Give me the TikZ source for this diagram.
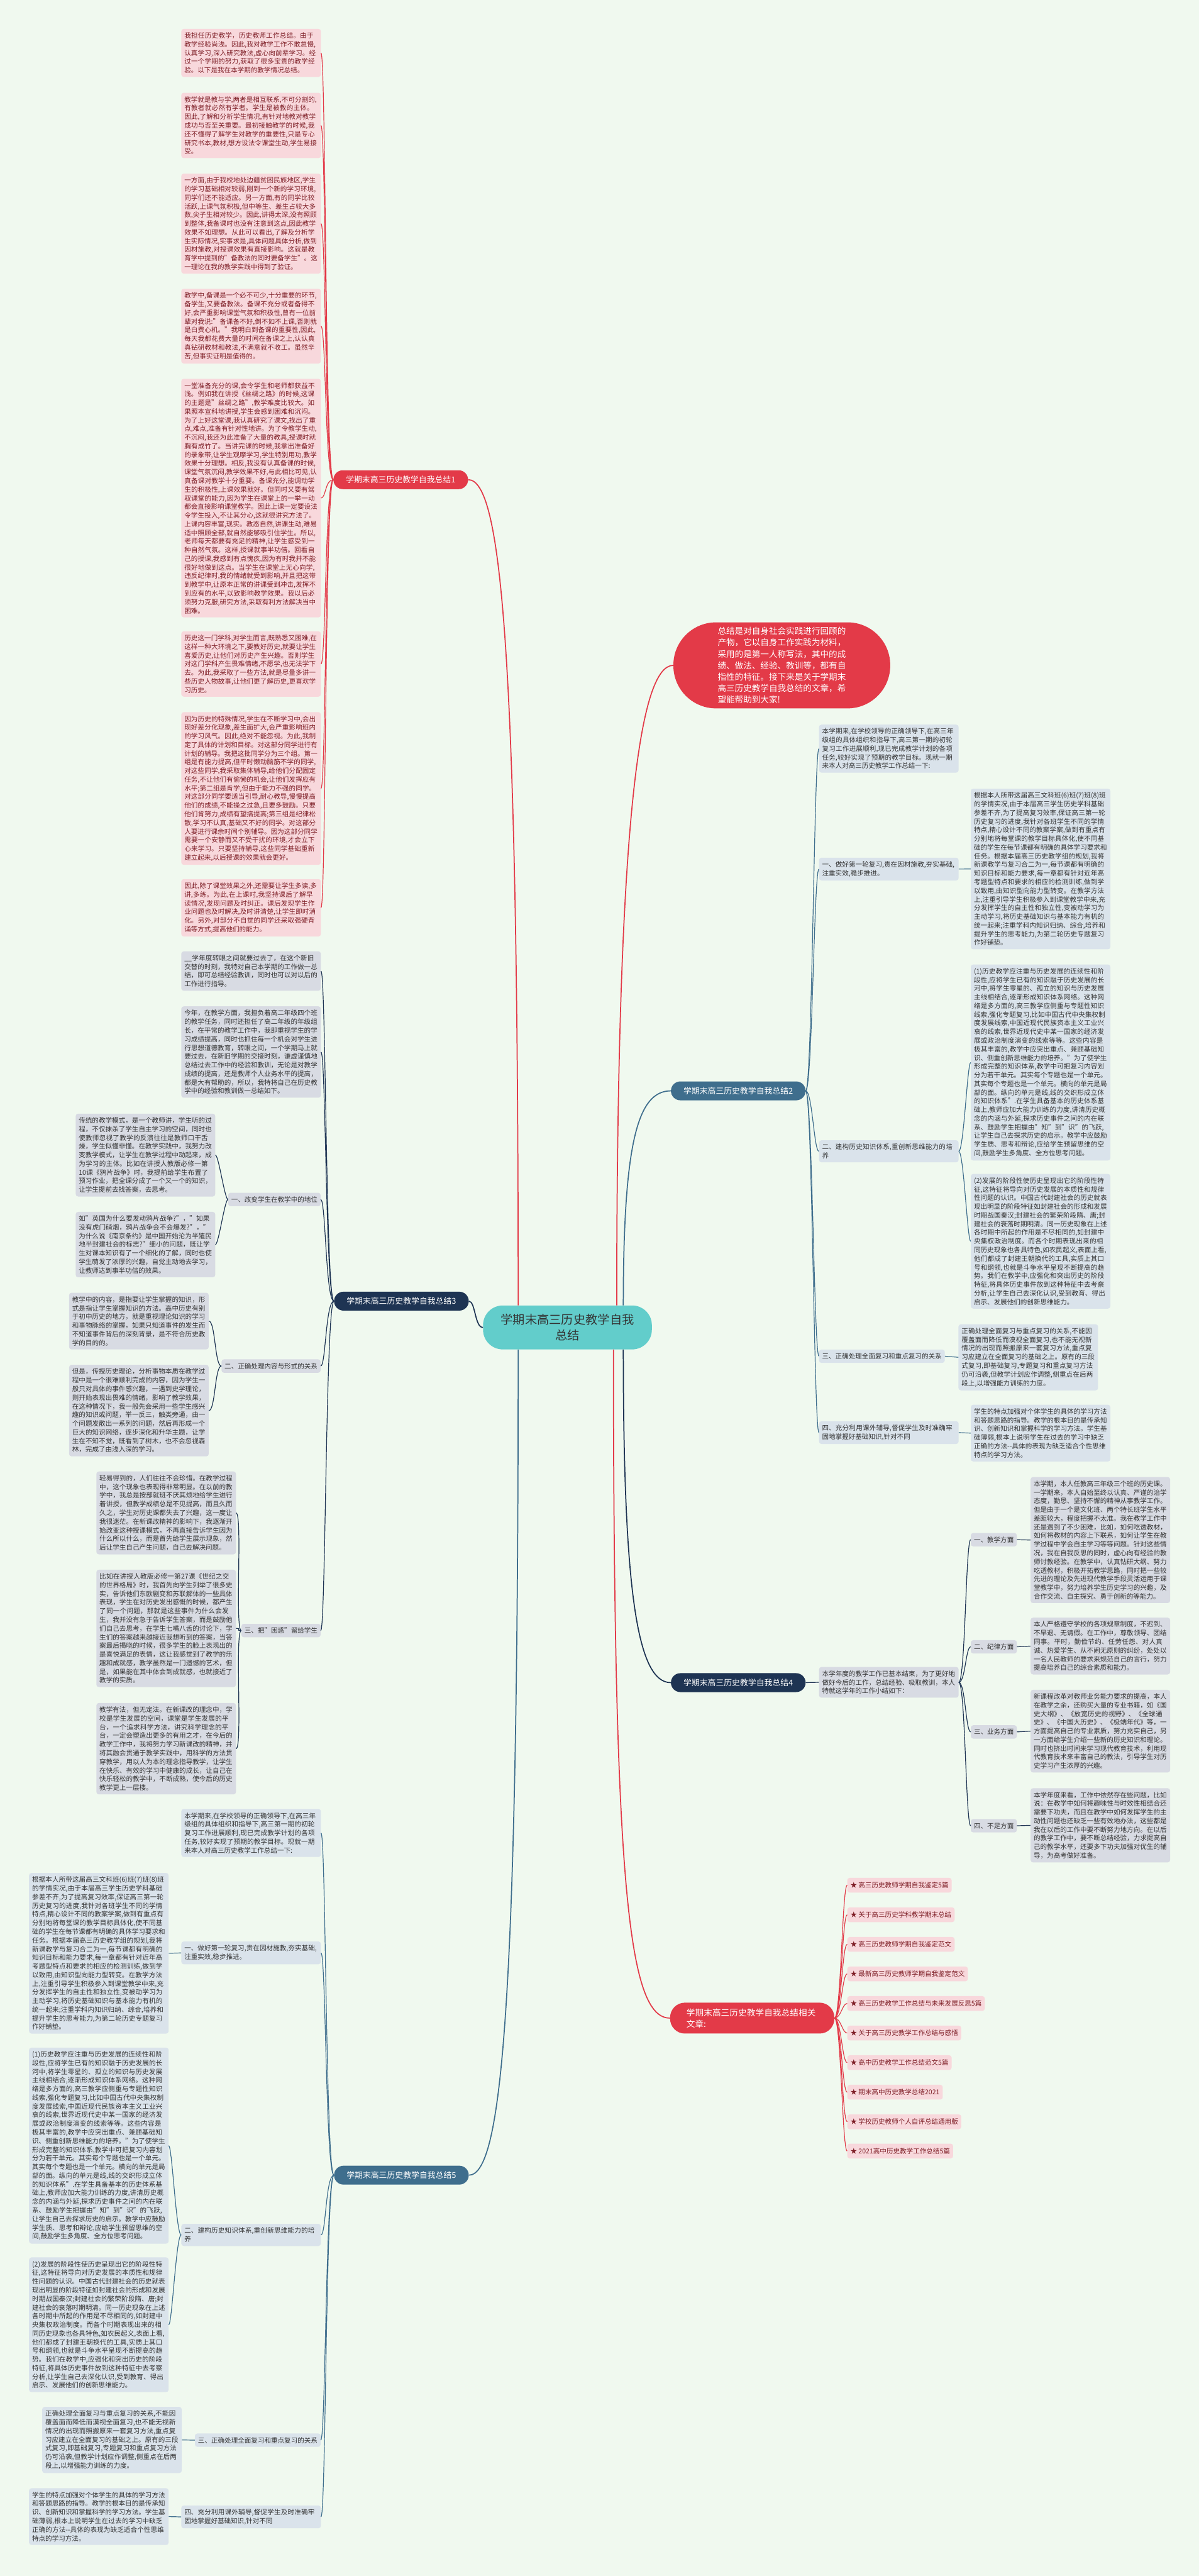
\documentclass[tikz,border=0pt]{standalone}
\usepackage{fontspec}
\setmainfont{Noto Sans CJK SC}
\XeTeXlinebreaklocale "zh"
\XeTeXlinebreakskip=0pt plus 1pt
\usepackage{tikz}

\definecolor{bgmint}{HTML}{F0F9EF}
\definecolor{mmred}{HTML}{E33A48}
\definecolor{pinkfill}{HTML}{F8D8DC}
\definecolor{pinktext}{HTML}{7E1E26}
\definecolor{steel}{HTML}{3F6E8D}
\definecolor{steelfill}{HTML}{DAE3EB}
\definecolor{navy}{HTML}{1E3453}
\definecolor{navyfill}{HTML}{D8DBE3}
\definecolor{greytext}{HTML}{333333}
\definecolor{tealroot}{HTML}{62CDCB}

\newcommand{\mmtext}{\fontsize{11.5}{15}\selectfont}
\newcommand{\mmbranch}{\fontsize{14}{18}\selectfont}
\newcommand{\mmbig}{\fontsize{14.8}{19.7}\selectfont}
\newcommand{\mmroot}{\fontsize{21}{27}\selectfont}

\tikzset{
  pinkbox/.style={fill=pinkfill, text=pinktext, rounded corners=1.5mm, inner xsep=1.9mm, inner ysep=2.2mm, text width=81.2mm, align=left, anchor=north west, font=\mmtext},
  steelbox/.style={pinkbox, fill=steelfill, text=greytext},
  navybox/.style={pinkbox, fill=navyfill, text=greytext},
  steeltag/.style={fill=steelfill, text=greytext, rounded corners=1.5mm, inner xsep=1.9mm, inner ysep=2.2mm, font=\mmtext},
  navytag/.style={steeltag, fill=navyfill},
  pinktag/.style={steeltag, fill=pinkfill, text=pinktext, minimum height=9mm, anchor=west},
  branchnode/.style={rounded corners=5.75mm, minimum width=82mm, minimum height=11.5mm, inner sep=0pt, text=white, font=\mmbranch},
  redline/.style={draw=mmred, line width=1.3pt},
  steelline/.style={draw=steel, line width=1.3pt},
  navyline/.style={draw=navy, line width=1.3pt},
  mainline/.style={line width=1.9pt}
}

\begin{document}
\begin{tikzpicture}[x=1mm,y=-1mm]
\fill[bgmint] (0,0) rectangle (730,1568);
\useasboundingbox (0,0) rectangle (730,1568);

\node[fill=tealroot, rounded corners=12mm, text=greytext, font=\mmroot, align=center, inner xsep=10.8mm, inner ysep=5.2mm] (root) at (345.5,808) {学期末高三历史教学自我\\总结};

\node[fill=mmred, rounded corners=26mm, text=white, font=\mmbig, align=left, inner xsep=27mm, inner ysep=3mm] (intro) at (476,405) {总结是对自身社会实践进行回顾的\\产物，它以自身工作实践为材料，\\采用的是第一人称写法，其中的成\\绩、做法、经验、教训等，都有自\\指性的特征。接下来是关于学期末\\高三历史教学自我总结的文章，希\\望能帮助到大家!};

\node[branchnode, fill=mmred] (b1) at (244,292) {学期末高三历史教学自我总结1};
\node[branchnode, fill=steel] (b2) at (449.5,664) {学期末高三历史教学自我总结2};
\node[branchnode, fill=navy] (b3) at (244.4,792) {学期末高三历史教学自我总结3};
\node[branchnode, fill=navy] (b4) at (449.5,1024.2) {学期末高三历史教学自我总结4};
\node[branchnode, fill=steel] (b5) at (244.4,1324) {学期末高三历史教学自我总结5};
\node[branchnode, fill=mmred, font=\mmbig, align=left, text width=80mm, minimum width=100mm, minimum height=18.8mm, rounded corners=9mm] (b6) at (458,1228.4) {学期末高三历史教学自我总结相关文章:};

\draw[redline, mainline] ([xshift=30mm]root.north) .. controls +(0,-300) and +(-20,0) .. (intro.west);
\draw[steelline, mainline] ([xshift=34mm]root.north) .. controls +(0,-100) and +(-20,0) .. (b2.west);
\draw[navyline, mainline] ([xshift=34mm]root.south) .. controls +(0,150) and +(-20,0) .. (b4.west);
\draw[redline, mainline] ([xshift=28mm]root.south) .. controls +(0,330) and +(-25,0) .. (b6.west);
\draw[redline, mainline] ([xshift=-30mm]root.north) .. controls +(0,-400) and +(20,0) .. (b1.east);
\draw[navyline, mainline] (root.west) .. controls +(-5,0) and +(4,0) .. (b3.east);
\draw[steelline, mainline] ([xshift=-30mm]root.south) .. controls +(0,400) and +(20,0) .. (b5.east);

\node[pinkbox] (b1a) at (110.3,17.5) {我担任历史教学，历史教师工作总结。由于教学经验尚浅。因此,我对教学工作不敢怠慢,认真学习,深入研究教法,虚心向前辈学习。经过一个学期的努力,获取了很多宝贵的教学经验。以下是我在本学期的教学情况总结。};
\node[pinkbox] (b1b) at (110.3,56.4) {教学就是教与学,两者是相互联系,不可分割的,有教者就必然有学者。学生是被教的主体。因此,了解和分析学生情况,有针对地教对教学成功与否至关重要。最初接触教学的时候,我还不懂得了解学生对教学的重要性,只是专心研究书本,教材,想方设法令课堂生动,学生易接受。};
\node[pinkbox] (b1c) at (110.3,105.6) {一方面,由于我校地处边疆贫困民族地区,学生的学习基础相对较弱,刚到一个新的学习环境,同学们还不能适应。另一方面,有的同学比较活跃,上课气氛积极,但中等生、差生占较大多数,尖子生相对较少。因此,讲得太深,没有照顾到整体,我备课时也没有注意到这点,因此教学效果不如理想。从此可以看出,了解及分析学生实际情况,实事求是,具体问题具体分析,做到因材施教,对授课效果有直接影响。这就是教育学中提到的"备教法的同时要备学生"。这一理论在我的教学实践中得到了验证。};
\node[pinkbox] (b1d) at (110.3,175.7) {教学中,备课是一个必不可少,十分重要的环节,备学生,又要备教法。备课不充分或者备得不好,会严重影响课堂气氛和积极性,曾有一位前辈对我说:"备课备不好,倒不如不上课,否则就是白费心机。"我明白到备课的重要性,因此,每天我都花费大量的时间在备课之上,认认真真钻研教材和教法,不满意就不收工。虽然辛苦,但事实证明是值得的。};
\node[pinkbox] (b1e) at (110.3,230.5) {一堂准备充分的课,会令学生和老师都获益不浅。例如我在讲授《丝绸之路》的时候,这课的主题是"丝绸之路",教学难度比较大。如果照本宣科地讲授,学生会感到困难和沉闷。为了上好这堂课,我认真研究了课文,找出了重点,难点,准备有针对性地讲。为了令教学生动,不沉闷,我还为此准备了大量的教具,授课时就胸有成竹了。当讲完课的时候,我拿出准备好的录象带,让学生观摩学习,学生特别用功,教学效果十分理想。相反,我没有认真备课的时候,课堂气氛沉闷,教学效果不好,与此相比可见,认真备课对教学十分重要。备课充分,能调动学生的积极性,上课效果就好。但同时又要有驾驭课堂的能力,因为学生在课堂上的一举一动都会直接影响课堂教学。因此上课一定要设法令学生投入,不让其分心,这就很讲究方法了。上课内容丰富,现实。教态自然,讲课生动,难易适中照顾全部,就自然能够吸引住学生。所以,老师每天都要有充足的精神,让学生感受到一种自然气氛。这样,授课就事半功倍。回看自己的授课,我感到有点愧疚,因为有时我并不能很好地做到这点。当学生在课堂上无心向学,违反纪律时,我的情绪就受到影响,并且把这带到教学中,让原本正常的讲课受到冲击,发挥不到应有的水平,以致影响教学效果。我以后必须努力克服,研究方法,采取有利方法解决当中困难。};
\node[pinkbox] (b1f) at (110.3,384.2) {历史这一门学科,对学生而言,既熟悉又困难,在这样一种大环境之下,要教好历史,就要让学生喜爱历史,让他们对历史产生兴趣。否则学生对这门学科产生畏难情绪,不愿学,也无法学下去。为此,我采取了一些方法,就是尽量多讲一些历史人物故事,让他们更了解历史,更喜欢学习历史。};
\node[pinkbox] (b1g) at (110.3,433.4) {因为历史的特殊情况,学生在不断学习中,会出现好差分化现象,差生面扩大,会严重影响班内的学习风气。因此,绝对不能忽视。为此,我制定了具体的计划和目标。对这部分同学进行有计划的辅导。我把这批同学分为三个组。第一组是有能力提高,但平时懒动脑筋不学的同学,对这些同学,我采取集体辅导,给他们分配固定任务,不让他们有偷懒的机会,让他们发挥应有水平;第二组是肯学,但由于能力不强的同学。对这部分同学要适当引导,耐心教导,慢慢提高他们的成绩,不能操之过急,且要多鼓励。只要他们肯努力,成绩有望搞提高;第三组是纪律松散,学习不认真,基础又不好的同学。对这部分人要进行课余时间个别辅导。因为这部分同学需要一个安静而又不受干扰的环境,才会立下心来学习。只要坚持辅导,这些同学基础重新建立起来,以后授课的效果就会更好。};
\node[pinkbox] (b1h) at (110.3,535) {因此,除了课堂效果之外,还需要让学生多读,多讲,多练。为此,在上课时,我坚持课后了解早读情况,发现问题及时纠正。课后发现学生作业问题也及时解决,及时讲清楚,让学生即时消化。另外,对部分不自觉的同学还采取强硬背诵等方式,提高他们的能力。};

\draw[redline] (b1.west) .. controls +(-5,0) and +(3,0) .. (b1a.east);
\draw[redline] (b1.west) .. controls +(-5,0) and +(3,0) .. (b1b.east);
\draw[redline] (b1.west) .. controls +(-5,0) and +(3,0) .. (b1c.east);
\draw[redline] (b1.west) .. controls +(-5,0) and +(3,0) .. (b1d.east);
\draw[redline] (b1.west) .. controls +(-5,0) and +(3,0) .. (b1e.east);
\draw[redline] (b1.west) .. controls +(-5,0) and +(3,0) .. (b1f.east);
\draw[redline] (b1.west) .. controls +(-5,0) and +(3,0) .. (b1g.east);
\draw[redline] (b1.west) .. controls +(-5,0) and +(3,0) .. (b1h.east);

\node[steelbox] (c2a) at (498.6,441) {本学期来,在学校领导的正确领导下,在高三年级组的具体组织和指导下,高三第一期的初轮复习工作进展顺利,现已完成教学计划的各项任务,较好实现了预期的教学目标。现就一期来本人对高三历史教学工作总结一下:};
\node[steelbox] (c2b) at (498.6,522) {一、做好第一轮复习,贵在因材施教,夯实基础,注重实效,稳步推进。};
\node[steelbox] (c2b1) at (591,480) {根据本人所带这届高三文科班(6)班(7)班(8)班的学情实况,由于本届高三学生历史学科基础参差不齐,为了提高复习效率,保证高三第一轮历史复习的进度,我针对各班学生不同的学情特点,精心设计不同的教案学案,做到有重点有分别地将每堂课的教学目标具体化,使不同基础的学生在每节课都有明确的具体学习要求和任务。根据本届高三历史教学组的规划,我将新课教学与复习合二为一,每节课都有明确的知识目标和能力要求,每一章都有针对近年高考题型特点和要求的相应的检测训练,做到学以致用,由知识型向能力型转变。在教学方法上,注重引导学生积极参入到课堂教学中来,充分发挥学生的自主性和独立性,变被动学习为主动学习,将历史基础知识与基本能力有机的统一起来;注重学科内知识归纳、综合,培养和提升学生的思考能力,为第二轮历史专题复习作好铺垫。};
\node[steelbox] (c2c) at (498.6,694) {二、建构历史知识体系,重创新思维能力的培养};
\node[steelbox] (c2c1) at (591,587) {(1)历史教学应注重与历史发展的连续性和阶段性,应将学生已有的知识融于历史发展的长河中,将学生零星的、孤立的知识与历史发展主线相结合,逐渐形成知识体系网络。这种网络是多方面的,高三教学应侧重与专题性知识线索,强化专题复习,比如中国古代中央集权制度发展线索,中国近现代民族资本主义工业兴衰的线索,世界近现代史中某一国家的经济发展或政治制度演变的线索等等。这些内容是极其丰富的,教学中应突出重点、兼顾基础知识、侧重创新思维能力的培养。"为了使学生形成完整的知识体系,教学中可把复习内容划分为若干单元。其实每个专题也是一个单元。其实每个专题也是一个单元。横向的单元是局部的面。纵向的单元是线,线的交织形成立体的知识体系".在学生具备基本的历史体系基础上,教师应加大能力训练的力度,讲清历史概念的内涵与外延,探求历史事件之间的内在联系、鼓励学生把握由"知"到"识"的飞跃,让学生自己去探求历史的启示。教学中应鼓励学生质、思考和辩论,应给学生预留思维的空间,鼓励学生多角度、全方位思考问题。};
\node[steelbox] (c2c2) at (591,714.5) {(2)发展的阶段性使历史呈现出它的阶段性特征,这特征将导向对历史发展的本质性和规律性问题的认识。中国古代封建社会的历史就表现出明显的阶段特征如封建社会的形成和发展时期战国秦汉;封建社会的繁荣阶段隋、唐;封建社会的衰落时期明清。同一历史现象在上述各时期中所起的作用是不尽相同的,如封建中央集权政治制度。而各个时期表现出来的相同历史现象也各具特色,如农民起义,表面上看,他们都成了封建王朝换代的工具,实质上其口号和纲领,也就是斗争水平呈现不断提高的趋势。我们在教学中,应强化和突出历史的阶段特征,将具体历史事件放到这种特征中去考察分析,让学生自己去深化认识,受到教育、得出启示、发展他们的创新思维能力。};
\node[steeltag, anchor=west] (c2d) at (498.6,825.5) {三、正确处理全面复习和重点复习的关系};
\node[steelbox] (c2d1) at (583.5,806) {正确处理全面复习与重点复习的关系,不能因覆盖面而降低而漠视全面复习,也不能无视新情况的出现而照搬原来一套复习方法,重点复习应建立在全面复习的基础之上。原有的三段式复习,即基础复习,专题复习和重点复习方法仍可沿袭,但教学计划应作调整,侧重点在后两段上,以增强能力训练的力度。};
\node[steelbox] (c2e) at (498.6,865) {四、充分利用课外辅导,督促学生及时准确牢固地掌握好基础知识,针对不同};
\node[steelbox] (c2e1) at (591,855) {学生的特点加强对个体学生的具体的学习方法和答题思路的指导。教学的根本目的是传承知识、创新知识和掌握科学的学习方法。学生基础薄弱,根本上说明学生在过去的学习中缺乏正确的方法-{}-具体的表现为缺乏适合个性思维特点的学习方法。};

\draw[steelline] (b2.east) .. controls +(4,0) and +(-3,0) .. (c2a.west);
\draw[steelline] (b2.east) .. controls +(4,0) and +(-3,0) .. (c2b.west);
\draw[steelline] (b2.east) .. controls +(4,0) and +(-3,0) .. (c2c.west);
\draw[steelline] (b2.east) .. controls +(4,0) and +(-3,0) .. (c2d.west);
\draw[steelline] (b2.east) .. controls +(4,0) and +(-3,0) .. (c2e.west);
\draw[steelline] (c2b.east) -- (c2b1.west);
\draw[steelline] (c2c.east) .. controls +(3,0) and +(-2,0) .. (c2c1.west);
\draw[steelline] (c2c.east) .. controls +(3,0) and +(-2,0) .. (c2c2.west);
\draw[steelline] (c2d.east) -- (c2d1.west);
\draw[steelline] (c2e.east) -- (c2e1.west);

\node[navybox] (c3a) at (110.3,579) {\_\_学年度转眼之间就要过去了，在这个新旧交替的时刻，我特对自己本学期的工作做一总结，即可总结经验教训，同时也可以对以后的工作进行指导。};
\node[navybox] (c3b) at (110.3,612.5) {今年，在教学方面，我担负着高二年级四个班的教学任务，同时还担任了高二年级的年级组长，在平常的教学工作中，我即重视学生的学习成绩提高，同时也抓住每一个机会对学生进行思想道德教育，转眼之间，一个学期马上就要过去，在新旧学期的交接时刻，谦虚谨慎地总结过去工作中的经验和教训，无论是对教学成绩的提高，还是教师个人业务水平的提高，都是大有帮助的，所以，我特将自己在历史教学中的经验和教训做一总结如下。};
\node[navytag, anchor=east] (c3c) at (195.3,730.1) {一、改变学生在教学中的地位};
\node[navybox] (c3c1) at (46,677.8) {传统的教学模式，是一个教师讲，学生听的过程，不仅抹杀了学生自主学习的空间，同时也使教师忽视了教学的反溃往往是教师口干舌燥，学生似懂非懂。在教学实践中，我努力改变教学模式，让学生在教学过程中动起来，成为学习的主体。比如在讲授人教版必修一第10课《鸦片战争》时，我提前给学生布置了预习作业，把全课分成了一个又一个的知识，让学生提前去找答案，去思考。};
\node[navybox] (c3c2) at (46,737.6) {如"英国为什么要发动鸦片战争?"，"如果没有虎门硝烟，鸦片战争会不会爆发?"，"为什么说《南京条约》是中国开始沦为半殖民地半封建社会的标志?"细小的问题，既让学生对课本知识有了一个细化的了解，同时也使学生萌发了浓厚的兴趣，自觉主动地去学习，让教师达到事半功倍的效果。};
\node[navytag, anchor=east] (c3d) at (195.3,831.5) {二、正确处理内容与形式的关系};
\node[navybox] (c3d1) at (42,786.8) {教学中的内容，是指要让学生掌握的知识，形式是指让学生掌握知识的方法。高中历史有别于初中历史的地方，就是重视理论知识的学习和事物脉络的掌握，如果只知道事件的发生而不知道事件背后的深刻背景，是不符合历史教学的目的的。};
\node[navybox] (c3d2) at (42,830.7) {但是，传授历史理论，分析事物本质在教学过程中是一个很难顺利完成的内容，因为学生一般只对具体的事件感兴趣，一遇到史学理论，则开始表现出畏难的情绪，影响了教学效果，在这种情况下，我一般先会采用一些学生感兴趣的知识或问题，举一反三，触类旁通，由一个问题发散出一系列的问题，然后再形成一个巨大的知识网络，逐步深化和升华主题，让学生在不知不觉，既看到了树木，也不会忽视森林，完成了由浅入深的学习。};
\node[navytag, anchor=east] (c3e) at (195.3,992.5) {三、把"困惑"留给学生};
\node[navybox] (c3e1) at (58.6,895.6) {轻易得到的，人们往往不会珍惜。在教学过程中，这个现象也表现得非常明显。在以前的教学中，我总是按部就班不厌其烦地给学生进行着讲授，但教学成绩总是不见提高，而且久而久之，学生对历史课都失去了兴趣，这一度让我很迷茫。在新课改精神的影响下，我逐渐开始改变这种授课模式，不再直接告诉学生因为什么所以什么，而是首先给学生展示现象，然后让学生自己产生问题，自己去解决问题。};
\node[navybox] (c3e2) at (58.6,955.4) {比如在讲授人教版必修一第27课《世纪之交的世界格局》时，我首先向学生列举了很多史实，告诉他们东欧剧变和苏联解体的一些具体表现，学生在对历史发出感慨的时候，都产生了同一个问题，那就是这些事件为什么会发生，我并没有急于告诉学生答案，而是鼓励他们自己去思考，在学生七嘴八舌的讨论下，学生们的答案越来越接近我想听到的答案，当答案最后揭晓的时候，很多学生的脸上表现出的是喜悦满足的表情，这让我感觉到了教学的乐趣和成就感，教学虽然是一门遗憾的艺术，但是，如果能在其中体会到成就感，也就接近了教学的实质。};
\node[navybox] (c3e3) at (58.6,1036.5) {教学有法，但无定法。在新课改的理念中，学校是学生发展的空间，课堂是学生发展的平台，一个追求科学方法，讲究科学理念的平台，一定会塑造出更多的有用之才，在今后的教学工作中，我将努力学习新课改的精神，并将其融会贯通于教学实践中，用科学的方法贯穿教学，用以人为本的理念指导教学，让学生在快乐、有效的学习中健康的成长，让自己在快乐轻松的教学中，不断成熟，使今后的历史教学更上一层楼。};

\draw[navyline] (b3.west) .. controls +(-5,0) and +(3,0) .. (c3a.east);
\draw[navyline] (b3.west) .. controls +(-5,0) and +(3,0) .. (c3b.east);
\draw[navyline] (b3.west) .. controls +(-5,0) and +(3,0) .. (c3c.east);
\draw[navyline] (b3.west) .. controls +(-5,0) and +(3,0) .. (c3d.east);
\draw[navyline] (b3.west) .. controls +(-5,0) and +(3,0) .. (c3e.east);
\draw[navyline] (c3c.west) .. controls +(-2,0) and +(2,0) .. (c3c1.east);
\draw[navyline] (c3c.west) .. controls +(-2,0) and +(2,0) .. (c3c2.east);
\draw[navyline] (c3d.west) .. controls +(-4,0) and +(4,0) .. (c3d1.east);
\draw[navyline] (c3d.west) .. controls +(-4,0) and +(4,0) .. (c3d2.east);
\draw[navyline] (c3e.west) .. controls +(-4,0) and +(4,0) .. (c3e1.east);
\draw[navyline] (c3e.west) .. controls +(-4,0) and +(4,0) .. (c3e2.east);
\draw[navyline] (c3e.west) .. controls +(-4,0) and +(4,0) .. (c3e3.east);

\node[navybox] (c4a) at (498.6,1014.6) {本学年度的教学工作已基本结束，为了更好地做好今后的工作，总结经验、吸取教训，本人特就这学年的工作小结如下：};
\node[navytag, anchor=west] (c4b) at (591,937.2) {一、教学方面};
\node[navybox] (c4b1) at (627.4,899) {本学期，本人任教高三年级三个班的历史课。一学期来，本人自始至终以认真、严谨的治学态度，勤恳、坚持不懈的精神从事教学工作。但是由于一个是文化班、两个特长班学生水平差距较大，程度把握不太准。我在教学工作中还是遇到了不少困难，比如，如何吃透教材，如何将教材的内容上下联系，如何让学生在教学过程中学会自主学习等等问题。针对这些情况，我在自我反思的同时，虚心向有经验的教师讨教经验。在教学中，认真钻研大纲、努力吃透教材，积极开拓教学思路，同时把一些较先进的理论及先进现代教学手段灵活运用于课堂教学中，努力培养学生历史学习的兴趣，及合作交流、自主探究、勇于创新的等能力。};
\node[navytag, anchor=west] (c4c) at (591,1002.4) {二、纪律方面};
\node[navybox] (c4c1) at (627.4,984.6) {本人严格遵守学校的各项规章制度，不迟到、不早退、无请假。在工作中，尊敬领导、团结同事。平时，勤俭节约、任劳任怨、对人真诚、热爱学生、从不闹无原则的纠纷，处处以一名人民教师的要求来规范自己的言行，努力提高培养自己的综合素质和能力。};
\node[navytag, anchor=west] (c4d) at (591,1054.2) {三、业务方面};
\node[navybox] (c4d1) at (627.4,1028.5) {新课程改革对教师业务能力要求的提高，本人在教学之余，还购买大量的专业书籍，如《国史大纲》、《放宽历史的视野》、《全球通史》、《中国大历史》、《极端年代》等，一方面提高自己的专业素质，努力充实自己，另一方面给学生介绍一些新的历史知识和理论。同时也挤出时间来学习现代教育技术，利用现代教育技术来丰富自己的教法，引导学生对历史学习产生浓厚的兴趣。};
\node[navytag, anchor=west] (c4e) at (591,1111.3) {四、不足方面};
\node[navybox] (c4e1) at (627.4,1088.4) {本学年度来看，工作中依然存在些问题，比如说：在教学中如何将趣味性与时效性相结合还需要下功夫，而且在教学中如何发挥学生的主动性问题也还缺乏一些有效地办法，这些都是我在以后的工作中要不断努力地方向。在以后的教学工作中，要不断总结经验，力求提高自己的教学水平，还要多下功夫加强对优生的辅导，为高考做好准备。};

\draw[navyline] (b4.east) -- (c4a.west);
\draw[navyline] (c4a.east) .. controls +(4,0) and +(-3,0) .. (c4b.west);
\draw[navyline] (c4a.east) .. controls +(4,0) and +(-3,0) .. (c4c.west);
\draw[navyline] (c4a.east) .. controls +(4,0) and +(-3,0) .. (c4d.west);
\draw[navyline] (c4a.east) .. controls +(4,0) and +(-3,0) .. (c4e.west);
\draw[navyline] (c4b.east) -- (c4b1.west);
\draw[navyline] (c4c.east) -- (c4c1.west);
\draw[navyline] (c4d.east) -- (c4d1.west);
\draw[navyline] (c4e.east) -- (c4e1.west);

\node[steelbox] (c5a) at (110.3,1101) {本学期来,在学校领导的正确领导下,在高三年级组的具体组织和指导下,高三第一期的初轮复习工作进展顺利,现已完成教学计划的各项任务,较好实现了预期的教学目标。现就一期来本人对高三历史教学工作总结一下:};
\node[steelbox] (c5b) at (110.3,1181.7) {一、做好第一轮复习,贵在因材施教,夯实基础,注重实效,稳步推进。};
\node[steelbox] (c5b1) at (17.6,1140) {根据本人所带这届高三文科班(6)班(7)班(8)班的学情实况,由于本届高三学生历史学科基础参差不齐,为了提高复习效率,保证高三第一轮历史复习的进度,我针对各班学生不同的学情特点,精心设计不同的教案学案,做到有重点有分别地将每堂课的教学目标具体化,使不同基础的学生在每节课都有明确的具体学习要求和任务。根据本届高三历史教学组的规划,我将新课教学与复习合二为一,每节课都有明确的知识目标和能力要求,每一章都有针对近年高考题型特点和要求的相应的检测训练,做到学以致用,由知识型向能力型转变。在教学方法上,注重引导学生积极参入到课堂教学中来,充分发挥学生的自主性和独立性,变被动学习为主动学习,将历史基础知识与基本能力有机的统一起来;注重学科内知识归纳、综合,培养和提升学生的思考能力,为第二轮历史专题复习作好铺垫。};
\node[steelbox] (c5c) at (110.3,1353.6) {二、建构历史知识体系,重创新思维能力的培养};
\node[steelbox] (c5c1) at (17.6,1246.3) {(1)历史教学应注重与历史发展的连续性和阶段性,应将学生已有的知识融于历史发展的长河中,将学生零星的、孤立的知识与历史发展主线相结合,逐渐形成知识体系网络。这种网络是多方面的,高三教学应侧重与专题性知识线索,强化专题复习,比如中国古代中央集权制度发展线索,中国近现代民族资本主义工业兴衰的线索,世界近现代史中某一国家的经济发展或政治制度演变的线索等等。这些内容是极其丰富的,教学中应突出重点、兼顾基础知识、侧重创新思维能力的培养。"为了使学生形成完整的知识体系,教学中可把复习内容划分为若干单元。其实每个专题也是一个单元。其实每个专题也是一个单元。横向的单元是局部的面。纵向的单元是线,线的交织形成立体的知识体系".在学生具备基本的历史体系基础上,教师应加大能力训练的力度,讲清历史概念的内涵与外延,探求历史事件之间的内在联系、鼓励学生把握由"知"到"识"的飞跃,让学生自己去探求历史的启示。教学中应鼓励学生质、思考和辩论,应给学生预留思维的空间,鼓励学生多角度、全方位思考问题。};
\node[steelbox] (c5c2) at (17.6,1374) {(2)发展的阶段性使历史呈现出它的阶段性特征,这特征将导向对历史发展的本质性和规律性问题的认识。中国古代封建社会的历史就表现出明显的阶段特征如封建社会的形成和发展时期战国秦汉;封建社会的繁荣阶段隋、唐;封建社会的衰落时期明清。同一历史现象在上述各时期中所起的作用是不尽相同的,如封建中央集权政治制度。而各个时期表现出来的相同历史现象也各具特色,如农民起义,表面上看,他们都成了封建王朝换代的工具,实质上其口号和纲领,也就是斗争水平呈现不断提高的趋势。我们在教学中,应强化和突出历史的阶段特征,将具体历史事件放到这种特征中去考察分析,让学生自己去深化认识,受到教育、得出启示、发展他们的创新思维能力。};
\node[steeltag, anchor=east] (c5d) at (195.3,1485.3) {三、正确处理全面复习和重点复习的关系};
\node[steelbox] (c5d1) at (25.6,1465) {正确处理全面复习与重点复习的关系,不能因覆盖面而降低而漠视全面复习,也不能无视新情况的出现而照搬原来一套复习方法,重点复习应建立在全面复习的基础之上。原有的三段式复习,即基础复习,专题复习和重点复习方法仍可沿袭,但教学计划应作调整,侧重点在后两段上,以增强能力训练的力度。};
\node[steelbox] (c5e) at (110.3,1525) {四、充分利用课外辅导,督促学生及时准确牢固地掌握好基础知识,针对不同};
\node[steelbox] (c5e1) at (17.6,1514.5) {学生的特点加强对个体学生的具体的学习方法和答题思路的指导。教学的根本目的是传承知识、创新知识和掌握科学的学习方法。学生基础薄弱,根本上说明学生在过去的学习中缺乏正确的方法-{}-具体的表现为缺乏适合个性思维特点的学习方法。};

\draw[steelline] (b5.west) .. controls +(-5,0) and +(3,0) .. (c5a.east);
\draw[steelline] (b5.west) .. controls +(-5,0) and +(3,0) .. (c5b.east);
\draw[steelline] (b5.west) .. controls +(-5,0) and +(3,0) .. (c5c.east);
\draw[steelline] (b5.west) .. controls +(-5,0) and +(3,0) .. (c5d.east);
\draw[steelline] (b5.west) .. controls +(-5,0) and +(3,0) .. (c5e.east);
\draw[steelline] (c5b.west) -- (c5b1.east);
\draw[steelline] (c5c.west) .. controls +(-3,0) and +(2,0) .. (c5c1.east);
\draw[steelline] (c5c.west) .. controls +(-3,0) and +(2,0) .. (c5c2.east);
\draw[steelline] (c5d.west) -- (c5d1.east);
\draw[steelline] (c5e.west) -- (c5e1.east);

\node[pinktag] (r1) at (515.8,1147.5) {★ 高三历史教师学期自我鉴定5篇};
\node[pinktag] (r2) at (515.8,1165.5) {★ 关于高三历史学科教学期末总结};
\node[pinktag] (r3) at (515.8,1183.5) {★ 高三历史教师学期自我鉴定范文};
\node[pinktag] (r4) at (515.8,1201.5) {★ 最新高三历史教师学期自我鉴定范文};
\node[pinktag] (r5) at (515.8,1219.5) {★ 高三历史教学工作总结与未来发展反思5篇};
\node[pinktag] (r6) at (515.8,1237.5) {★ 关于高三历史教学工作总结与感悟};
\node[pinktag] (r7) at (515.8,1255.5) {★ 高中历史教学工作总结范文5篇};
\node[pinktag] (r8) at (515.8,1273.5) {★ 期末高中历史教学总结2021};
\node[pinktag] (r9) at (515.8,1291.5) {★ 学校历史教师个人自评总结通用版};
\node[pinktag] (r10) at (515.8,1309.3) {★ 2021高中历史教学工作总结5篇};

\draw[redline] (b6.east) .. controls +(4,0) and +(-3,0) .. (r1.west);
\draw[redline] (b6.east) .. controls +(4,0) and +(-3,0) .. (r2.west);
\draw[redline] (b6.east) .. controls +(4,0) and +(-3,0) .. (r3.west);
\draw[redline] (b6.east) .. controls +(4,0) and +(-3,0) .. (r4.west);
\draw[redline] (b6.east) .. controls +(4,0) and +(-3,0) .. (r5.west);
\draw[redline] (b6.east) .. controls +(4,0) and +(-3,0) .. (r6.west);
\draw[redline] (b6.east) .. controls +(4,0) and +(-3,0) .. (r7.west);
\draw[redline] (b6.east) .. controls +(4,0) and +(-3,0) .. (r8.west);
\draw[redline] (b6.east) .. controls +(4,0) and +(-3,0) .. (r9.west);
\draw[redline] (b6.east) .. controls +(4,0) and +(-3,0) .. (r10.west);
\end{tikzpicture}
\end{document}
